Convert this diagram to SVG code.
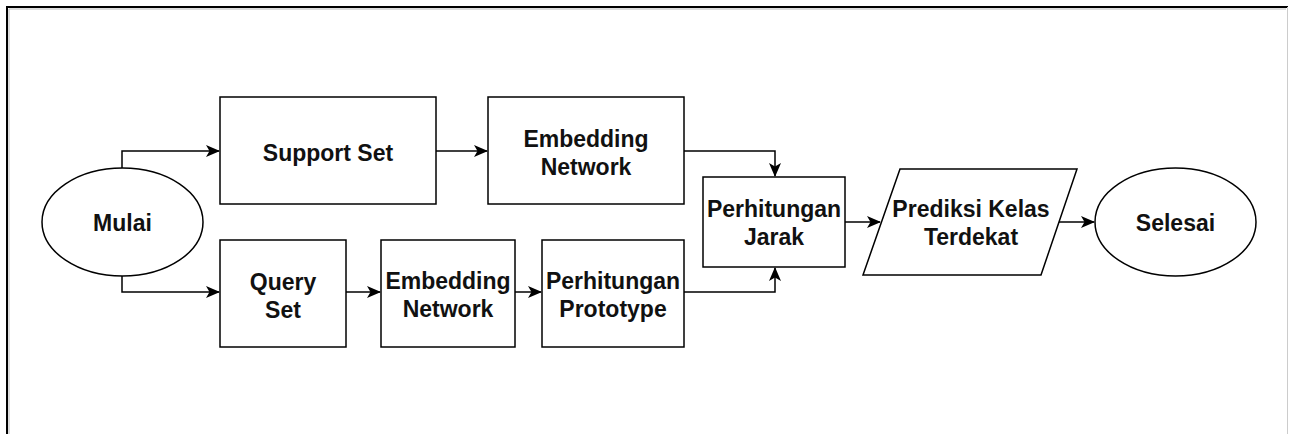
<svg xmlns="http://www.w3.org/2000/svg" width="1290" height="434" viewBox="0 0 1290 434">
<style>
.s{fill:#fff;stroke:#000;stroke-width:1.5}
.t{font-family:"Liberation Sans",Arial,sans-serif;font-weight:bold;font-size:23px;fill:#111;text-anchor:middle}
.c{fill:none;stroke:#000;stroke-width:1.5}
</style>
<defs>
<marker id="a" markerWidth="14" markerHeight="12" refX="13" refY="6" orient="auto" markerUnits="userSpaceOnUse">
<path d="M0,0 L14,6 L0,12 L3.5,6 Z" fill="#000"/>
</marker>
</defs>
<rect x="0" y="0" width="1290" height="434" fill="#fff"/>
<g id="frame">
<path d="M7,434 V7 H1288" fill="none" stroke="#000" stroke-width="2"/>
<path d="M9,434 V9 H1286" fill="none" stroke="#bbb" stroke-width="1"/>
<path d="M1287.5,7 V434" fill="none" stroke="#ccc" stroke-width="1"/>
</g>
<g id="connectors">
<path class="c" d="M122,168 V151 H219" marker-end="url(#a)"/>
<path class="c" d="M122,276 V292 H219" marker-end="url(#a)"/>
<path class="c" d="M436,151 H487" marker-end="url(#a)"/>
<path class="c" d="M346,292 H380" marker-end="url(#a)"/>
<path class="c" d="M515,292 H541" marker-end="url(#a)"/>
<path class="c" d="M684,151 H775 V176" marker-end="url(#a)"/>
<path class="c" d="M684,292 H775 V268" marker-end="url(#a)"/>
<path class="c" d="M845,222 H880" marker-end="url(#a)"/>
<path class="c" d="M1058,222 H1094" marker-end="url(#a)"/>
</g>
<g id="mulai"><ellipse class="s" cx="122.5" cy="222" rx="80.5" ry="54"/><text class="t" x="122.5" y="231">Mulai</text></g>
<g id="support-set"><rect class="s" x="220" y="97" width="216" height="107"/><text class="t" x="328" y="161">Support Set</text></g>
<g id="embedding-1"><rect class="s" x="488" y="97" width="196" height="107"/><text class="t" x="586" y="147">Embedding</text><text class="t" x="586" y="175">Network</text></g>
<g id="query-set"><rect class="s" x="220" y="240" width="126" height="107"/><text class="t" x="283" y="290">Query</text><text class="t" x="283" y="318">Set</text></g>
<g id="embedding-2"><rect class="s" x="381" y="240" width="134" height="107"/><text class="t" x="448" y="289">Embedding</text><text class="t" x="448" y="317">Network</text></g>
<g id="prototype"><rect class="s" x="542" y="240" width="142" height="107"/><text class="t" x="613" y="289">Perhitungan</text><text class="t" x="613" y="317">Prototype</text></g>
<g id="jarak"><rect class="s" x="703" y="177" width="142" height="90"/><text class="t" x="774" y="217">Perhitungan</text><text class="t" x="774" y="245">Jarak</text></g>
<g id="prediksi"><polygon class="s" points="900,169 1077,169 1041,275 863,275"/><text class="t" x="971" y="217">Prediksi Kelas</text><text class="t" x="971" y="245">Terdekat</text></g>
<g id="selesai"><ellipse class="s" cx="1175.5" cy="222" rx="80.5" ry="54"/><text class="t" x="1175.5" y="231">Selesai</text></g>
</svg>
